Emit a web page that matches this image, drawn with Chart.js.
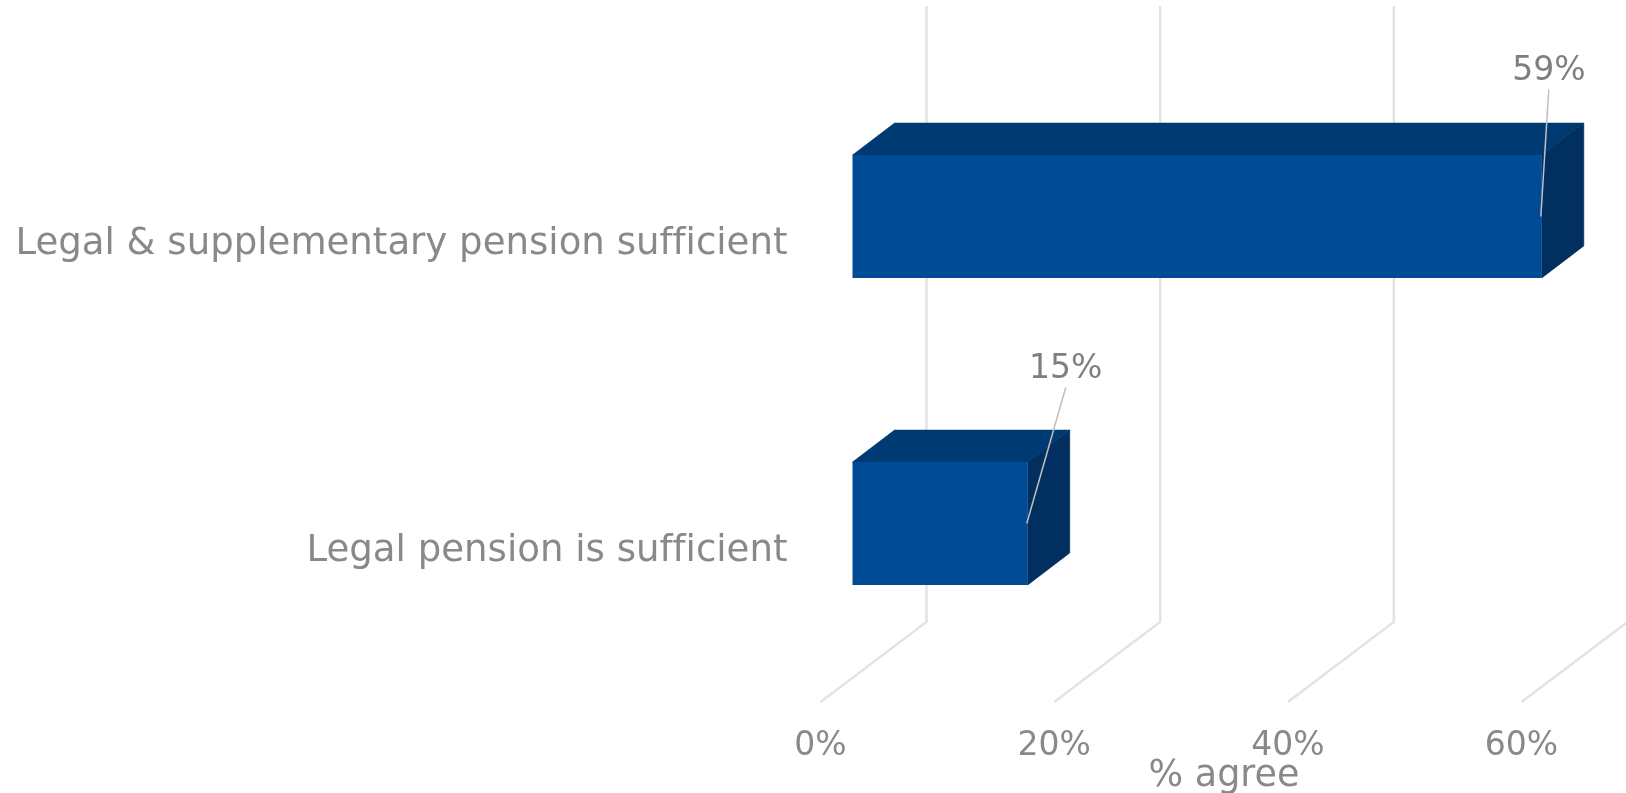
<!DOCTYPE html>
<html>
<head>
<title>Pension sufficiency</title>
<script src="https://cdn.jsdelivr.net/npm/chart.js"></script>
<style>
  body{
    margin: 0;
    background: #ffffff;
  }
  canvas{
    display: block;
  }
</style>
</head>
<body>
<canvas id="myChart" width="1626" height="793"></canvas>
<script>
const categories = ['Legal & supplementary pension sufficient', 'Legal pension is sufficient'];
const agreeValues = [59, 15];
const axisTicks = [0, 20, 40, 60];
const axisTitle = '% agree';

const textColor = '#898989';
const fontName = '"DejaVu Sans", Verdana, sans-serif';

// bars sit halfway back on the floor, the wall grid stands at the far edge
const barShift = { x: 32, y: -25 };
const barDepth = { x: 42, y: -32 };
const wallDepth = { x: 106, y: -80 };
const wallTop = 6;

// where each value label goes, relative to the right edge of its bar
const labelShift = [{ x: 7, y: -146 }, { x: 38, y: -155 }];

function fillFace(ctx, points, color) {
  ctx.beginPath();
  points.forEach((p, i) => i ? ctx.lineTo(p[0], p[1]) : ctx.moveTo(p[0], p[1]));
  ctx.closePath();
  ctx.fillStyle = color;
  ctx.strokeStyle = color;
  ctx.lineWidth = 0.6;
  ctx.fill();
  ctx.stroke();
}

const box3d = {
  id: 'box3d',
  beforeDraw(chart) {
    // no "ffi" ligature in the labels
    chart.ctx.letterSpacing = '0.01px';
  },
  beforeDatasetsDraw(chart) {
    const ctx = chart.ctx;
    const bottom = chart.chartArea.bottom;

    // wall and floor grid
    ctx.save();
    ctx.strokeStyle = '#e3e3e3';
    ctx.lineWidth = 2.5;
    axisTicks.forEach(v => {
      const x = chart.scales.x.getPixelForValue(v);
      ctx.beginPath();
      ctx.moveTo(x + wallDepth.x, wallTop);
      ctx.lineTo(x + wallDepth.x, bottom + wallDepth.y);
      ctx.lineTo(x, bottom);
      ctx.stroke();
    });
    ctx.restore();

    // top and side faces, the front face is the bar itself
    ctx.save();
    ctx.translate(barShift.x, barShift.y);
    const dx = barDepth.x, dy = barDepth.y;
    chart.getDatasetMeta(0).data.forEach(bar => {
      const top = bar.y - bar.height / 2;
      const low = bar.y + bar.height / 2;
      fillFace(ctx, [[bar.base, top], [bar.base + dx, top + dy], [bar.x + dx, top + dy], [bar.x, top]], '#003a72');
      fillFace(ctx, [[bar.x, top], [bar.x + dx, top + dy], [bar.x + dx, low + dy], [bar.x, low]], '#002f60');
    });
    ctx.restore();

    ctx.save();
    ctx.translate(barShift.x, barShift.y);
  },
  afterDatasetsDraw(chart) {
    const ctx = chart.ctx;
    ctx.restore();

    ctx.save();
    ctx.font = '33px ' + fontName;
    ctx.textAlign = 'center';
    ctx.textBaseline = 'middle';
    chart.getDatasetMeta(0).data.forEach((bar, i) => {
      const x = bar.x + barShift.x;
      const y = bar.y + barShift.y;
      const lx = x + labelShift[i].x;
      const ly = y + labelShift[i].y;

      // leader from the label to the bar end
      ctx.strokeStyle = '#bfbfbf';
      ctx.lineWidth = 1.5;
      ctx.beginPath();
      ctx.moveTo(lx, ly + 19);
      ctx.lineTo(x - 1, y);
      ctx.stroke();

      ctx.fillStyle = '#7f7f7f';
      ctx.fillText(agreeValues[i] + '%', lx, ly + 1);
    });

    // axis title sits off centre, under the 20% to 40% gap
    ctx.fillStyle = textColor;
    ctx.font = '36.5px ' + fontName;
    ctx.fillText(axisTitle, 1224, 777);
    ctx.restore();
  }
};

new Chart(document.getElementById('myChart'), {
  type: 'bar',
  data: {
    labels: categories,
    datasets: [{
      label: axisTitle,
      data: agreeValues,
      backgroundColor: '#004b95',
      barPercentage: 0.4,
      categoryPercentage: 1,
      clip: false
    }]
  },
  options: {
    indexAxis: 'y',
    responsive: false,
    animation: false,
    layout: { padding: { top: 88, right: 104.5, left: 0, bottom: 0 } },
    plugins: {
      legend: { display: false },
      tooltip: { enabled: false }
    },
    scales: {
      x: {
        min: 0,
        max: 60,
        afterFit: s => { s.height = 91; },
        afterBuildTicks: s => { s.ticks = axisTicks.map(v => ({ value: v })); },
        grid: { display: false, drawTicks: false },
        border: { display: false },
        ticks: {
          padding: 25,
          autoSkip: false,
          maxRotation: 0,
          color: textColor,
          font: { family: fontName, size: 33 },
          callback: v => v + '%'
        }
      },
      y: {
        afterFit: s => { s.width = 820.5; },
        grid: { display: false, drawTicks: false },
        border: { display: false },
        ticks: {
          padding: 33,
          labelOffset: 3,
          autoSkip: false,
          color: textColor,
          font: { family: fontName, size: 37.1 }
        }
      }
    }
  },
  plugins: [box3d]
});
</script>
</body>
</html>
